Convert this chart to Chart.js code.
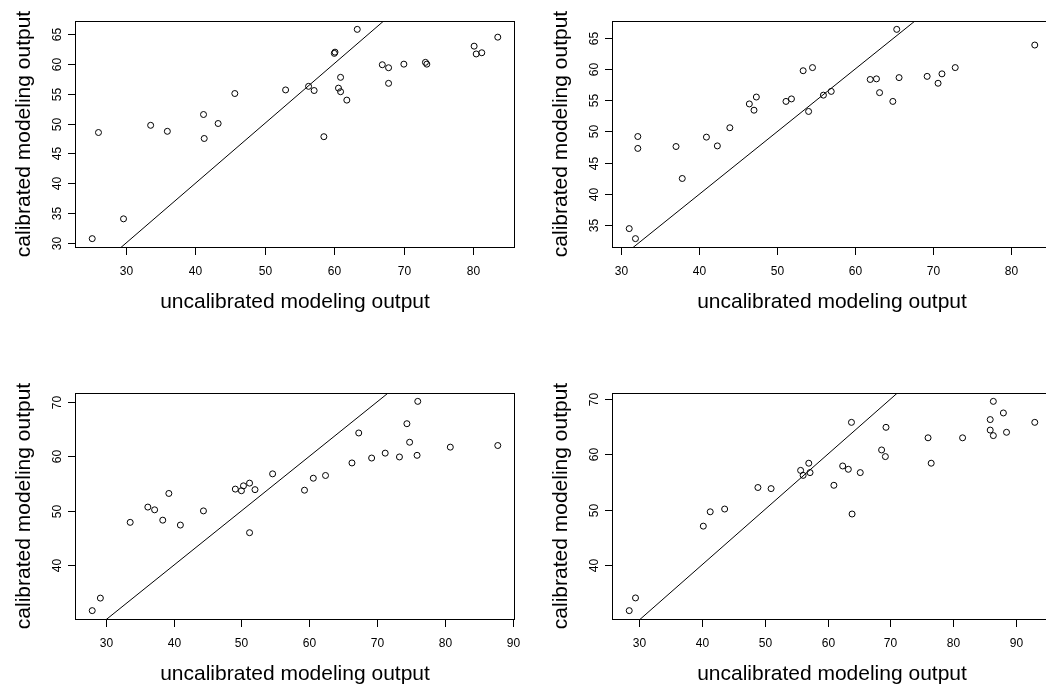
<!DOCTYPE html>
<html>
<head>
<meta charset="utf-8">
<script src="https://cdn.jsdelivr.net/npm/chart.js@4"></script>
<style>
  body { margin: 0; background: #fff; overflow: hidden; }
  #wrap { position: relative; width: 1046px; height: 686px; overflow: hidden; }
  canvas { position: absolute; }
</style>
</head>
<body>
<div id="wrap">
  <canvas id="c1" width="537" height="372" style="left:0;top:0"></canvas>
  <canvas id="c2" width="537" height="372" style="left:537px;top:0"></canvas>
  <canvas id="c3" width="537" height="372" style="left:0;top:372px"></canvas>
  <canvas id="c4" width="537" height="372" style="left:537px;top:372px"></canvas>
</div>
<script>
// panel 1 (top left)
const x1 = [25.2, 26.1, 29.7, 33.6, 36.0, 41.2, 41.3, 43.3, 45.7, 53.0, 56.3, 57.1, 58.5, 60.0, 60.1,
  60.6, 60.9, 60.9, 61.8, 63.3, 66.9, 67.8, 67.8, 70.0, 73.1, 73.3, 80.1, 80.4, 81.2, 83.5];
const y1 = [30.8, 48.5, 34.1, 49.7, 48.7, 51.5, 47.5, 50.0, 55.0, 55.6, 56.2, 55.5, 47.8, 61.7, 61.9,
  55.9, 57.7, 55.3, 53.9, 65.7, 59.8, 59.3, 56.7, 59.9, 60.2, 59.9, 62.9, 61.6, 61.8, 64.4];

// panel 2 (top right)
const x2 = [31.0, 31.8, 32.1, 32.1, 37.0, 37.8, 40.9, 42.3, 43.9, 46.4, 47.0, 47.3, 51.1, 51.8, 53.3,
  54.5, 54.0, 55.9, 56.9, 61.9, 62.7, 63.1, 64.8, 65.3, 65.6, 69.2, 70.6, 71.1, 72.8, 83.0];
const y2 = [34.5, 32.9, 49.2, 47.3, 47.6, 42.5, 49.1, 47.7, 50.6, 54.4, 53.4, 55.5, 54.8, 55.2, 59.7,
  60.2, 53.2, 55.8, 56.4, 58.3, 58.4, 56.2, 54.8, 66.3, 58.6, 58.8, 57.7, 59.2, 60.2, 63.8];

// panel 3 (bottom left)
const x3 = [28.0, 29.2, 33.6, 36.2, 37.2, 38.4, 39.3, 41.0, 44.4, 49.1, 50.0, 50.3, 51.2, 52.0, 51.2,
  54.6, 59.3, 60.6, 62.4, 66.3, 67.3, 69.2, 71.2, 73.3, 74.4, 74.8, 75.9, 76.0, 80.8, 87.8];
const y3 = [31.7, 34.0, 47.9, 50.7, 50.2, 48.3, 53.2, 47.4, 50.0, 54.0, 53.7, 54.6, 55.1, 53.9, 46.0,
  56.8, 53.8, 56.0, 56.5, 58.8, 64.3, 59.7, 60.6, 59.9, 66.0, 62.6, 60.2, 70.1, 61.7, 62.0];

// panel 4 (bottom right)
const x4 = [28.4, 29.4, 40.2, 41.3, 43.6, 48.9, 51.0, 55.7, 56.1, 57.0, 57.2, 61.0, 62.4, 63.3, 63.8,
  63.9, 65.2, 68.6, 69.2, 69.3, 76.0, 76.5, 81.5, 85.9, 85.9, 86.4, 86.4, 88.0, 88.5, 93.0];
const y4 = [31.7, 34.0, 47.0, 49.6, 50.1, 54.0, 53.8, 57.1, 56.2, 58.4, 56.7, 54.4, 57.9, 57.3, 65.8,
  49.2, 56.7, 60.8, 59.6, 64.9, 63.0, 58.4, 63.0, 66.3, 64.4, 69.6, 63.4, 67.5, 64.0, 65.8];

// tick labels
const xTicksTop = [30, 40, 50, 60, 70, 80];
const xTicksBottom = [30, 40, 50, 60, 70, 80, 90];
const yTicks1 = [30, 35, 40, 45, 50, 55, 60, 65];
const yTicks2 = [35, 40, 45, 50, 55, 60, 65];
const yTicksBottom = [40, 50, 60, 70];

const xTitle = "uncalibrated modeling output";
const yTitle = "calibrated modeling output";

// R style axis range: data range plus 4% each side
function rRange(v) {
  const lo = Math.min(...v), hi = Math.max(...v);
  const pad = (hi - lo) * 0.04;
  return [lo - pad, hi + pad];
}

const FONT = "'Liberation Sans', Arial, Helvetica, sans-serif";

// draws the box, ticks, labels and titles like base R
const rAxes = {
  id: "rAxes",
  afterDraw(chart, args, opts) {
    const ctx = chart.ctx;
    const ca = chart.chartArea;
    const xs = chart.scales.x, ys = chart.scales.y;
    ctx.save();
    ctx.strokeStyle = "#000";
    ctx.fillStyle = "#000";
    ctx.lineWidth = 1;

    ctx.strokeRect(ca.left - 0.5, ca.top + 0.5, ca.right - ca.left + 1, ca.bottom - ca.top);

    ctx.font = "12px " + FONT;
    ctx.textAlign = "center";
    ctx.textBaseline = "middle";
    opts.xTicks.forEach((t) => {
      const px = Math.round(xs.getPixelForValue(t)) + 0.5;
      ctx.beginPath();
      ctx.moveTo(px, ca.bottom);
      ctx.lineTo(px, ca.bottom + 8);
      ctx.stroke();
      ctx.fillText(String(t), px, ca.bottom + 24.5);
    });
    opts.yTicks.forEach((t) => {
      const py = Math.round(ys.getPixelForValue(t)) + 0.5;
      ctx.beginPath();
      ctx.moveTo(ca.left - 8, py);
      ctx.lineTo(ca.left, py);
      ctx.stroke();
      ctx.save();
      ctx.translate(ca.left - 18.5, py);
      ctx.rotate(-Math.PI / 2);
      ctx.fillText(String(t), 0, 0);
      ctx.restore();
    });

    ctx.font = "21px " + FONT;
    ctx.textBaseline = "alphabetic";
    ctx.fillText(xTitle, (ca.left + ca.right) / 2, ca.bottom + 61);
    ctx.save();
    ctx.translate(29.5, (ca.top + ca.bottom) / 2);
    ctx.rotate(-Math.PI / 2);
    ctx.fillText(yTitle, 0, 0);
    ctx.restore();
    ctx.restore();
  },
};

function makePanel(id, xs, ys, xTicks, yTicks) {
  const xr = rRange(xs), yr = rRange(ys);
  const pts = xs.map((x, i) => ({ x: x, y: ys[i] }));
  new Chart(document.getElementById(id), {
    type: "scatter",
    data: {
      datasets: [
        {
          data: pts,
          pointStyle: "circle",
          pointRadius: 3,
          pointBorderWidth: 1,
          pointBorderColor: "#000",
          pointBackgroundColor: "rgba(0,0,0,0)",
        },
        {
          // abline(0, 1)
          type: "line",
          data: [{ x: 0, y: 0 }, { x: 120, y: 120 }],
          borderColor: "#000",
          borderWidth: 1,
          pointRadius: 0,
          fill: false,
        },
      ],
    },
    options: {
      responsive: false,
      animation: false,
      devicePixelRatio: 1,
      layout: { padding: { left: 76, top: 21, right: 23, bottom: 125 } },
      scales: {
        x: { type: "linear", display: false, min: xr[0], max: xr[1] },
        y: { type: "linear", display: false, min: yr[0], max: yr[1] },
      },
      plugins: {
        legend: { display: false },
        tooltip: { enabled: false },
        rAxes: { xTicks: xTicks, yTicks: yTicks },
      },
    },
    plugins: [rAxes],
  });
}

makePanel("c1", x1, y1, xTicksTop, yTicks1);
makePanel("c2", x2, y2, xTicksTop, yTicks2);
makePanel("c3", x3, y3, xTicksBottom, yTicksBottom);
makePanel("c4", x4, y4, xTicksBottom, yTicksBottom);
</script>
</body>
</html>
